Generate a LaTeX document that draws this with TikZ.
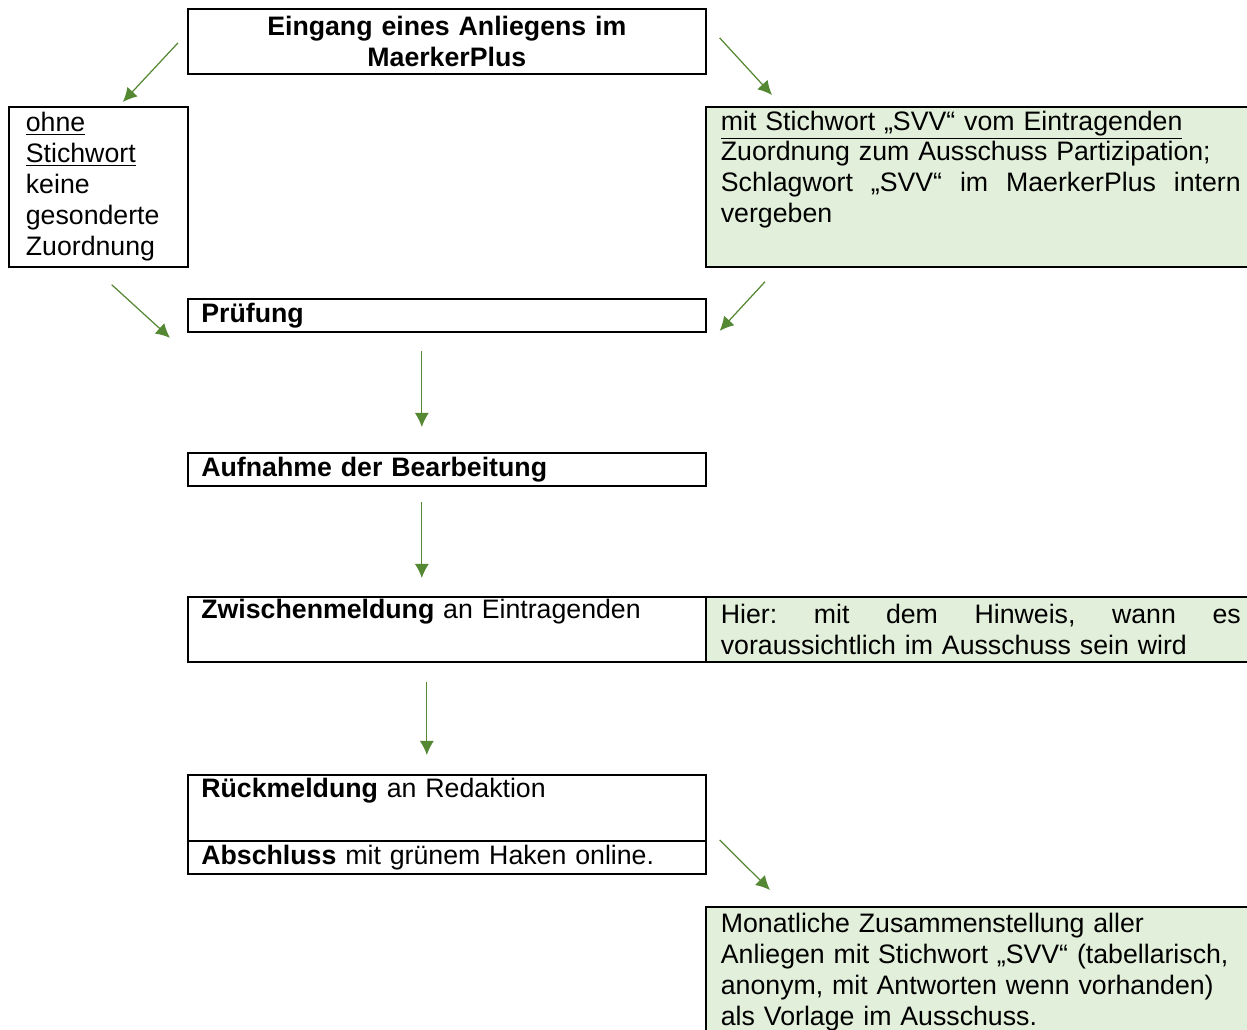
\documentclass[tikz,border=0pt]{standalone}
\usepackage{fontspec}
\setmainfont{Liberation Sans}
\usetikzlibrary{calc,arrows.meta,positioning}
\definecolor{pfeilgruen}{RGB}{84,136,50}
\definecolor{feldgruen}{RGB}{226,239,218}

\begin{document}
\begin{tikzpicture}[
            x = 0.02cm, y = -0.02cm,
            font = \fontsize{15.2}{17.6}\selectfont,
            feld/.style={
                draw,
                rectangle,
                line width = 1pt,
                anchor = north west,
                align = left,
                text width = 9.82cm,
                inner xsep = 0.27cm,
                inner ysep = 0.05cm
            },
            gruen/.style={feld, fill = feldgruen, text width = 10.4cm, inner xsep = 0.3cm},
            pfeil/.style={draw = pfeilgruen, line width = 0.7pt, -{Latex[length=8pt, width=8pt]}}
        ]
        \useasboundingbox (0,0) rectangle (1247,1030);
        \clip (0,0) rectangle (1247,1030);

        \node[feld, align=center, minimum height=1.3cm] (eingang) at (187,8) {\textbf{Eingang eines Anliegens im}\\\textbf{MaerkerPlus}};
        \node[feld, text width=2.9cm, inner xsep=0.34cm, minimum height=3.2cm] (ohne) at (8,106) {\underline{ohne}\\\underline{Stichwort}\\keine\\gesonderte\\Zuordnung};
        \node[gruen, minimum height=3.2cm] (svv) at (705,106) {\underline{mit Stichwort „SVV“ vom Eintragenden}\\Zuordnung zum Ausschuss Partizipation;\\\makebox[10.4cm][s]{Schlagwort\hfill„SVV“\hfill im\hfill MaerkerPlus\hfill intern}\\vergeben\\\strut};
        \node[feld, minimum height=0.66cm] (pruefung) at (187,298) {\textbf{Prüfung}};
        \node[feld, minimum height=0.66cm] (aufnahme) at (187,452) {\textbf{Aufnahme der Bearbeitung}};
        \node[feld, minimum height=1.3cm] (zwischen) at (187,596) {\textbf{Zwischenmeldung} an Eintragenden\\\strut};
        \node[gruen, minimum height=1.3cm] (hinweis) at (705,596) {\makebox[10.4cm][s]{Hier:\hfill mit\hfill dem\hfill Hinweis,\hfill wann\hfill es}\\voraussichtlich im Ausschuss sein wird};
        \node[feld, minimum height=1.32cm] (rueck) at (187,774) {\textbf{Rückmeldung} an Redaktion\\\strut};
        \node[feld, minimum height=0.66cm] (abschluss) at (187,840) {\textbf{Abschluss} mit grünem Haken online.};
        \node[gruen, minimum height=2.6cm] (monat) at (705,906) {Monatliche Zusammenstellung aller\\Anliegen mit Stichwort „SVV“ (tabellarisch,\\anonym, mit Antworten wenn vorhanden)\\als Vorlage im Ausschuss.};

        \draw[pfeil] ($(eingang.west)+(-9,1.5)$) -- ($(ohne.north)+(24.5,-4)$);
        \draw[pfeil] ($(eingang.east)+(13,-3.5)$) -- ($(svv.north west)+(67,-11)$);
        \draw[pfeil] ($(ohne.south east)+(-77,17)$) -- ($(pruefung.west)+(-17,22.5)$);
        \draw[pfeil] ($(svv.south west)+(60,14)$) -- ($(pruefung.east)+(13,15.5)$);
        \draw[pfeil] ($(pruefung.south)+(-25,18)$) -- ($(aufnahme.north)+(-25,-25)$);
        \draw[pfeil] ($(aufnahme.south)+(-25,15)$) -- ($(zwischen.north)+(-25,-18)$);
        \draw[pfeil] ($(zwischen.south)+(-20,19)$) -- ($(rueck.north)+(-20,-19)$);
        \draw[pfeil] ($(abschluss.north east)+(13,0)$) -- ($(monat.north west)+(65,-16)$);
    \end{tikzpicture}
\end{document}
